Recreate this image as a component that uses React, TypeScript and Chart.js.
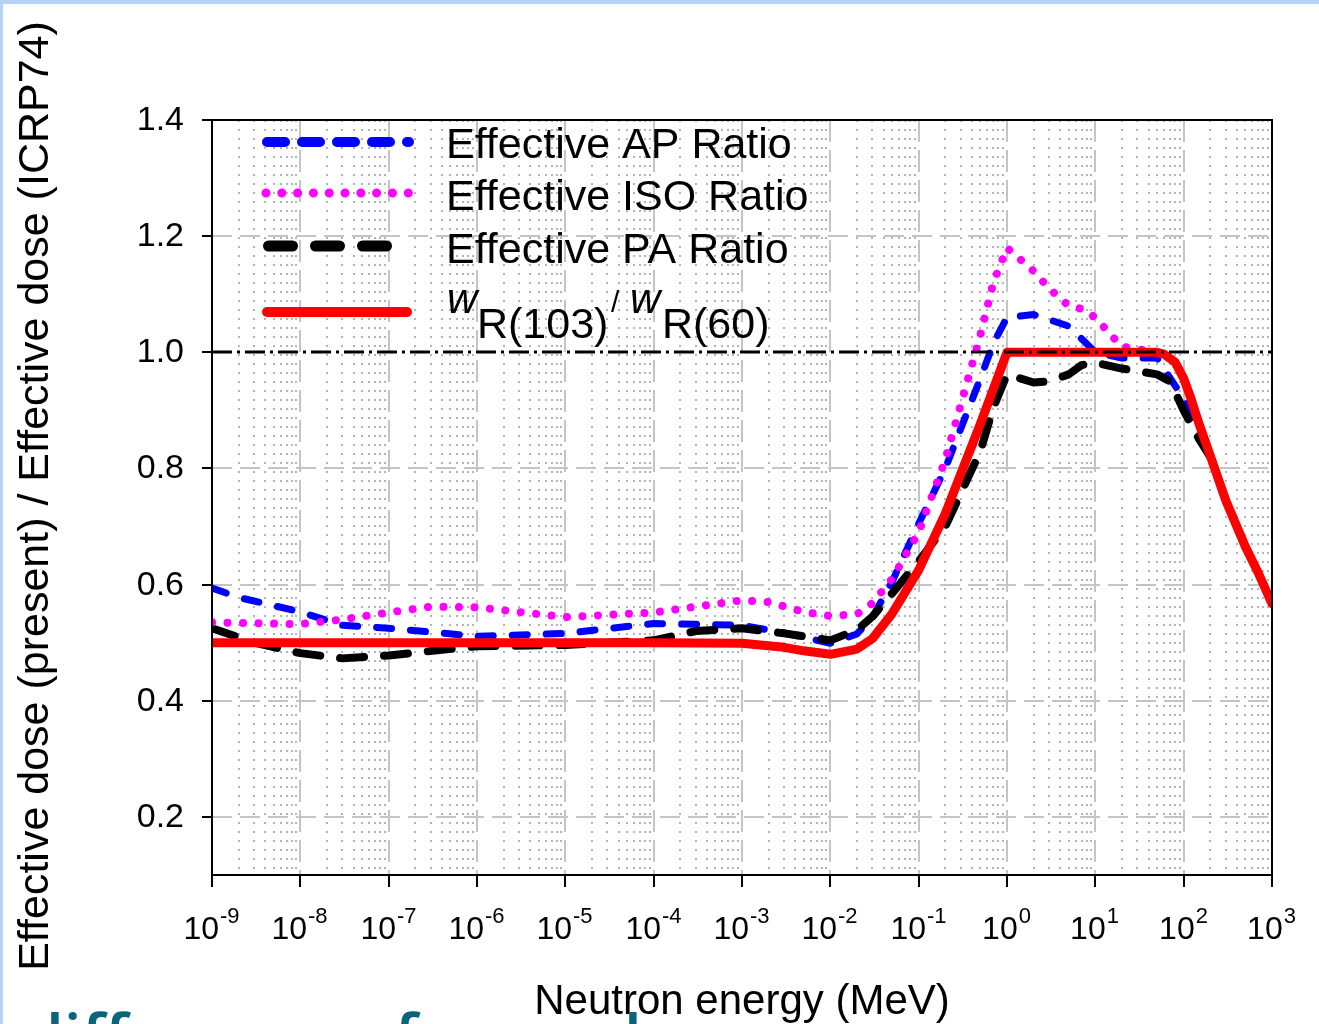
import React, { useEffect, useRef } from 'react';
import { Chart, registerables } from 'chart.js';

Chart.register(...registerables);

// ---- Data ----
const apEnergy = [1e-9, 2e-9, 1e-8, 3e-8, 1e-7, 1e-6, 1e-5, 1e-4, 1e-3, 3e-3, 1e-2, 2e-2, 3e-2, 5e-2, 0.1, 0.2, 0.5, 0.7, 1, 2, 5, 10, 20, 50, 100, 180];
const apRatio = [0.594, 0.578, 0.553, 0.530, 0.525, 0.511, 0.516, 0.533, 0.530, 0.517, 0.499, 0.515, 0.544, 0.605, 0.705, 0.800, 0.955, 1.015, 1.060, 1.065, 1.045, 1.000, 0.990, 0.990, 0.920, 0.830];

const isoEnergy = [1e-9, 1e-8, 3e-8, 1e-7, 3e-7, 1e-6, 1e-5, 1e-4, 1e-3, 2e-3, 5e-3, 1e-2, 2e-2, 3e-2, 5e-2, 0.1, 0.2, 0.5, 0.7, 1, 2, 3, 5, 7, 10, 15, 20, 50];
const isoRatio = [0.535, 0.532, 0.540, 0.552, 0.562, 0.561, 0.544, 0.552, 0.573, 0.570, 0.553, 0.546, 0.549, 0.568, 0.610, 0.690, 0.815, 1.030, 1.120, 1.180, 1.140, 1.110, 1.080, 1.075, 1.060, 1.030, 1.010, 1.000];

const paEnergy = [1e-9, 3e-9, 1e-8, 3e-8, 1e-7, 1e-6, 1e-5, 1e-4, 3e-4, 1e-3, 3e-3, 1e-2, 2e-2, 3e-2, 5e-2, 0.1, 0.2, 0.5, 0.7, 1, 2, 3, 5, 7, 10, 20, 50, 70, 100, 150, 200];
const paRatio = [0.525, 0.500, 0.482, 0.473, 0.478, 0.494, 0.496, 0.504, 0.520, 0.525, 0.516, 0.504, 0.522, 0.545, 0.585, 0.640, 0.700, 0.830, 0.905, 0.962, 0.948, 0.950, 0.962, 0.978, 0.982, 0.972, 0.962, 0.950, 0.900, 0.850, 0.820];

const wrEnergy = [1e-9, 1e-8, 1e-7, 1e-6, 1e-5, 1e-4, 1e-3, 3e-3, 5e-3, 1e-2, 2e-2, 3e-2, 5e-2, 0.1, 0.2, 0.5, 1, 2, 5, 10, 20, 50, 60, 80, 100, 120, 150, 200, 300, 500, 700, 1000];
const wrRatio = [0.500, 0.500, 0.500, 0.500, 0.500, 0.500, 0.499, 0.492, 0.486, 0.480, 0.489, 0.507, 0.550, 0.625, 0.722, 0.877, 1.000, 1.000, 1.000, 1.000, 1.000, 1.000, 0.997, 0.983, 0.955, 0.922, 0.876, 0.822, 0.745, 0.665, 0.620, 0.567];

const seriesLabels = ['Effective AP Ratio', 'Effective ISO Ratio', 'Effective PA Ratio'];
const xDecades = [-9, -8, -7, -6, -5, -4, -3, -2, -1, 0, 1, 2, 3];
const yTicks = [0.2, 0.4, 0.6, 0.8, 1.0, 1.2, 1.4];
const yGridDashed = [0.2, 0.4, 0.6, 0.8, 1.2];
const referenceLevel = 1.0;
const xTitle = 'Neutron energy (MeV)';
const yTitle = 'Effective dose (present) / Effective dose (ICRP74)';

const FONT = '"Liberation Sans", Arial, Helvetica, sans-serif';

const toPts = (xs: number[], ys: number[]) => xs.map((e, i) => ({ x: e, y: ys[i] }));

const decorPlugin = {
  id: 'decor',
  beforeDraw(chart: any) {
    const { ctx, chartArea: a } = chart;
    const x = chart.scales.x;
    const y = chart.scales.y;
    ctx.save();
    ctx.fillStyle = '#ffffff';
    ctx.fillRect(0, 0, chart.width, chart.height);
    // slide frame
    ctx.fillStyle = '#b3d4f6';
    ctx.fillRect(0, 0, chart.width, 4);
    ctx.fillRect(0, 0, 3, chart.height);

    const vline = (px: number) => {
      ctx.beginPath();
      ctx.moveTo(px, a.top);
      ctx.lineTo(px, a.bottom);
      ctx.stroke();
    };
    // minor dotted verticals
    ctx.strokeStyle = '#b4b4b4';
    ctx.lineWidth = 2;
    ctx.setLineDash([2, 7]);
    for (let i = 0; i < xDecades.length - 1; i++) {
      for (let k = 2; k <= 9; k++) {
        const px = Math.round(x.getPixelForValue(k * Math.pow(10, xDecades[i])));
        vline(px);
      }
    }
    // major dashed verticals
    ctx.strokeStyle = '#c4c4c4';
    ctx.lineWidth = 2;
    ctx.setLineDash([22, 8]);
    for (let i = 1; i < xDecades.length - 1; i++) {
      vline(Math.round(x.getPixelForValue(Math.pow(10, xDecades[i]))));
    }
    // major dashed horizontals
    ctx.setLineDash([20, 8]);
    for (const v of yGridDashed) {
      const py = Math.round(y.getPixelForValue(v));
      ctx.beginPath();
      ctx.moveTo(a.left, py);
      ctx.lineTo(a.right, py);
      ctx.stroke();
    }
    ctx.restore();
  },
  afterDatasetsDraw(chart: any) {
    const { ctx, chartArea: a } = chart;
    const x = chart.scales.x;
    const y = chart.scales.y;
    ctx.save();
    // reference dash-dot line
    const ry = Math.round(y.getPixelForValue(referenceLevel));
    ctx.strokeStyle = '#000000';
    ctx.lineWidth = 3;
    ctx.setLineDash([20, 5, 3, 5]);
    ctx.beginPath();
    ctx.moveTo(a.left, ry);
    ctx.lineTo(a.right, ry);
    ctx.stroke();

    // frame
    ctx.setLineDash([]);
    ctx.lineWidth = 2;
    ctx.strokeRect(a.left, a.top, a.right - a.left, a.bottom - a.top);

    // y ticks + labels
    ctx.fillStyle = '#000';
    ctx.font = `34px ${FONT}`;
    ctx.textAlign = 'right';
    ctx.textBaseline = 'middle';
    for (const v of yTicks) {
      const py = Math.round(y.getPixelForValue(v));
      ctx.beginPath();
      ctx.moveTo(a.left - 10, py);
      ctx.lineTo(a.left, py);
      ctx.stroke();
      ctx.fillText(v.toFixed(1), a.left - 28, py + 1);
    }

    // x ticks + labels
    ctx.textAlign = 'left';
    ctx.textBaseline = 'alphabetic';
    for (const n of xDecades) {
      const px = Math.round(x.getPixelForValue(Math.pow(10, n)));
      ctx.beginPath();
      ctx.moveTo(px, a.bottom);
      ctx.lineTo(px, a.bottom + 12);
      ctx.stroke();
      ctx.font = `32px ${FONT}`;
      const wBase = ctx.measureText('10').width;
      ctx.font = `22px ${FONT}`;
      const sup = String(n);
      const wSup = ctx.measureText(sup).width;
      const x0 = px - (wBase + wSup) / 2 - 1;
      ctx.font = `32px ${FONT}`;
      ctx.fillText('10', x0, 939);
      ctx.font = `22px ${FONT}`;
      ctx.fillText(sup, x0 + wBase + 1, 923);
    }

    // axis titles
    ctx.font = `42px ${FONT}`;
    ctx.textAlign = 'center';
    ctx.fillText(xTitle, 742, 1014);
    ctx.save();
    ctx.translate(48, 496);
    ctx.rotate(-Math.PI / 2);
    ctx.font = `43px ${FONT}`;
    ctx.fillText(yTitle, 0, 0);
    ctx.restore();

    // legend
    const sample = (yy: number, color: string, width: number, dash: number[], x1: number, x2: number) => {
      ctx.strokeStyle = color;
      ctx.lineWidth = width;
      ctx.lineCap = 'round';
      ctx.setLineDash(dash);
      ctx.beginPath();
      ctx.moveTo(x1, yy);
      ctx.lineTo(x2, yy);
      ctx.stroke();
    };
    sample(142, '#0000ff', 10, [18, 17], 267, 409);
    sample(193, '#ff00ff', 9, [0.01, 15.8], 266, 410);
    sample(246, '#000000', 11, [24, 23], 268.5, 400);
    sample(312, '#ff0000', 10, [], 267, 407);
    ctx.setLineDash([]);
    ctx.lineCap = 'butt';
    ctx.fillStyle = '#000';
    ctx.textAlign = 'left';
    ctx.font = `43px ${FONT}`;
    ctx.fillText(seriesLabels[0], 446, 158);
    ctx.fillText(seriesLabels[1], 446, 210);
    ctx.fillText(seriesLabels[2], 446, 263);
    // w_R(103) / w_R(60)
    ctx.font = `italic 42px ${FONT}`;
    ctx.fillText('w', 447, 313);
    ctx.font = `43px ${FONT}`;
    ctx.fillText('R(103)', 477, 338);
    ctx.font = `30px ${FONT}`;
    ctx.fillText('/', 611, 312);
    ctx.font = `italic 42px ${FONT}`;
    ctx.fillText('w', 630, 313);
    ctx.font = `43px ${FONT}`;
    ctx.fillText('R(60)', 662, 338);

    // slide text below the chart (cut off by the page edge)
    ctx.fillStyle = '#0b6479';
    ctx.font = `600 64px "Open Sans", ${FONT}`;
    ctx.fillText('difference of', 24, 1060);
    ctx.fillText('dose', 602, 1060);
    ctx.restore();
  },
};

export default function App() {
  const canvasRef = useRef<HTMLCanvasElement | null>(null);

  useEffect(() => {
    const canvas = canvasRef.current;
    if (!canvas) return;
    const chart = new Chart(canvas, {
      type: 'line',
      data: {
        datasets: [
          {
            label: 'wR(103)/wR(60)',
            data: toPts(wrEnergy, wrRatio),
            borderColor: '#ff0000',
            borderWidth: 9,
            borderCapStyle: 'round',
            borderJoinStyle: 'round',
            pointRadius: 0,
            tension: 0,
            order: 0,
          },
          {
            label: seriesLabels[1],
            data: toPts(isoEnergy, isoRatio),
            borderColor: '#ff00ff',
            borderWidth: 8,
            borderDash: [0.01, 15.5],
            borderCapStyle: 'round',
            borderJoinStyle: 'round',
            pointRadius: 0,
            tension: 0,
            order: 1,
          },
          {
            label: seriesLabels[2],
            data: toPts(paEnergy, paRatio),
            borderColor: '#000000',
            borderWidth: 8,
            borderDash: [24, 20],
            borderCapStyle: 'round',
            borderJoinStyle: 'round',
            pointRadius: 0,
            tension: 0,
            order: 2,
          },
          {
            label: seriesLabels[0],
            data: toPts(apEnergy, apRatio),
            borderColor: '#0000ff',
            borderWidth: 7,
            borderDash: [15, 19],
            borderCapStyle: 'round',
            borderJoinStyle: 'round',
            pointRadius: 0,
            tension: 0,
            order: 3,
          },
        ],
      },
      options: {
        animation: false,
        responsive: false,
        maintainAspectRatio: false,
        devicePixelRatio: 1,
        layout: { padding: { left: 212, right: 47, top: 120, bottom: 149 } },
        plugins: { legend: { display: false }, tooltip: { enabled: false }, title: { display: false } },
        scales: {
          x: { type: 'logarithmic', min: 1e-9, max: 1e3, display: false },
          y: { type: 'linear', min: 0.1, max: 1.4, display: false },
        },
      },
      plugins: [decorPlugin],
    } as any);
    return () => chart.destroy();
  }, []);

  return (
    <div style={{ position: 'absolute', left: 0, top: 0, width: 1319, height: 1024, overflow: 'hidden' }}>
      <canvas ref={canvasRef} width={1319} height={1024} style={{ display: 'block', width: 1319, height: 1024 }} />
    </div>
  );
}
